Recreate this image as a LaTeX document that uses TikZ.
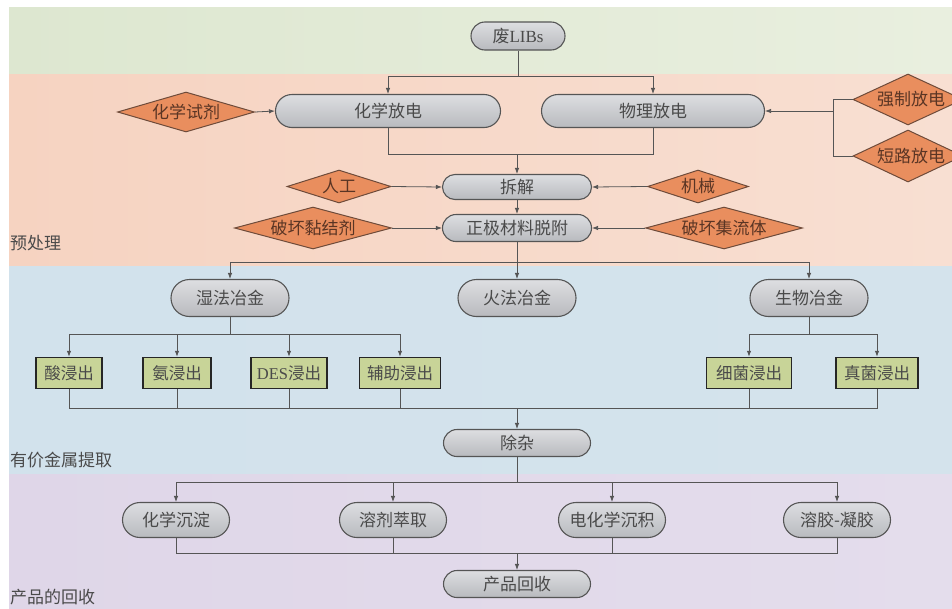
\documentclass[tikz,border=0pt]{standalone}
\usepackage{fontspec}
\setmainfont{Liberation Serif}
\newfontfamily\cjk{Noto Sans CJK SC}
\usetikzlibrary{shapes.misc,shapes.geometric,arrows.meta}
\definecolor{lnc}{HTML}{555555}
\definecolor{txc}{HTML}{4A4A4A}
\definecolor{pilltop}{HTML}{DDDEE1}
\definecolor{pillbot}{HTML}{B8BABE}
\definecolor{diaf}{HTML}{E98E5E}
\definecolor{diad}{HTML}{6E4B3A}
\definecolor{diat}{HTML}{5A3524}
\definecolor{boxf}{HTML}{C8D498}
\definecolor{grL}{HTML}{DDE7D0}\definecolor{grR}{HTML}{E9EFDF}
\definecolor{orL}{HTML}{F6D3C1}\definecolor{orR}{HTML}{F8DFD2}
\definecolor{blL}{HTML}{D2E2EC}\definecolor{blR}{HTML}{D4E3EC}
\definecolor{puL}{HTML}{DFD6E8}\definecolor{puR}{HTML}{E4DDEC}
\tikzset{
  pill/.style={rounded rectangle, draw=lnc, line width=1.1pt, top color=pilltop, bottom color=pillbot,
    inner sep=0pt, text=txc, font=\cjk\fontsize{17}{20}\selectfont},
  dia/.style={diamond, draw=diad, line width=1pt, fill=diaf, inner sep=0pt},
  dtext/.style={text=diat, font=\cjk\fontsize{17}{20}\selectfont, inner sep=0pt},
  leach/.style={rectangle, draw=black!85, line width=1.5pt, fill=boxf, inner sep=0pt,
    minimum height=31pt, text=txc, font=\cjk\fontsize{16.5}{20}\selectfont},
  lbl/.style={anchor=west, text=txc, inner sep=0pt, font=\cjk\fontsize{17}{20}\selectfont},
  ln/.style={draw=lnc, line width=0.8pt},
  arr/.style={ln, -{Latex[length=6pt,width=4.5pt]}},
}
\begin{document}
\begin{tikzpicture}[x=1pt,y=-1pt]
\useasboundingbox (0,0) rectangle (952,608);
% bands
\fill[white] (0,0) rectangle (952,608);
\fill[left color=grL, right color=grR] (9,7) rectangle (952,74);
\fill[left color=orL, right color=orR] (9,74) rectangle (952,266);
\fill[left color=blL, right color=blR] (9,266) rectangle (952,474);
\fill[left color=puL, right color=puR] (9,474) rectangle (952,608);
% band labels
\node[lbl] (lab1) at (10,243) {预处理};
\node[lbl] (lab2) at (10,460) {有价金属提取};
\node[lbl] (lab3) at (10,597) {产品的回收};
% pills
\node[pill, minimum width=94pt, minimum height=28pt] (lib) at (518,36) {废{\rmfamily LIBs}};
\node[pill, minimum width=225pt, minimum height=33pt] (chem) at (388,111) {化学放电};
\node[pill, minimum width=223pt, minimum height=33pt] (phys) at (653,111) {物理放电};
\node[pill, minimum width=149pt, minimum height=25pt] (cj) at (517,187) {拆解};
\node[pill, minimum width=149pt, minimum height=27pt] (zj) at (517,228) {正极材料脱附};
\node[pill, minimum width=118pt, minimum height=37pt] (wet) at (230,298) {湿法冶金};
\node[pill, minimum width=118pt, minimum height=37pt] (fire) at (517,298) {火法冶金};
\node[pill, minimum width=118pt, minimum height=37pt] (bio) at (809,298) {生物冶金};
\node[pill, minimum width=147pt, minimum height=27pt] (cz) at (517,443) {除杂};
\node[pill, minimum width=107pt, minimum height=35pt] (p1) at (176,520) {化学沉淀};
\node[pill, minimum width=107pt, minimum height=35pt] (p2) at (393,520) {溶剂萃取};
\node[pill, minimum width=107pt, minimum height=35pt] (p3) at (612,520) {电化学沉积};
\node[pill, minimum width=107pt, minimum height=35pt] (p4) at (837,520) {溶胶-凝胶};
\node[pill, minimum width=147pt, minimum height=27pt] (prod) at (517,584) {产品回收};
% diamonds
\node[dia, minimum width=137pt, minimum height=40pt] (cr) at (186,112) {};
\node[dtext] (crt) at (cr) {化学试剂};
\node[dia, minimum width=110pt, minimum height=51pt] (fd) at (908,99.5) {};
\node[dtext] (fdt) at (911,99.5) {强制放电};
\node[dia, minimum width=110pt, minimum height=52pt] (sd) at (908,156) {};
\node[dtext] (sdt) at (911,156) {短路放电};
\node[dia, minimum width=104pt, minimum height=33pt] (rg) at (339,186.5) {};
\node[dtext] (rgt) at (rg) {人工};
\node[dia, minimum width=101pt, minimum height=33pt] (jx) at (698,186.5) {};
\node[dtext] (jxt) at (jx) {机械};
\node[dia, minimum width=157pt, minimum height=42pt] (pn) at (313,228) {};
\node[dtext] (pnt) at (pn) {破坏黏结剂};
\node[dia, minimum width=157pt, minimum height=42pt] (pj) at (724,228) {};
\node[dtext] (pjt) at (pj) {破坏集流体};
% leaching boxes
\node[leach, minimum width=66pt] (b1) at (69,373) {酸浸出};
\node[leach, minimum width=68pt] (b2) at (177,373) {氨浸出};
\node[leach, minimum width=76pt] (b3) at (289,373) {{\rmfamily DES}浸出};
\node[leach, minimum width=81pt] (b4) at (400,373) {辅助浸出};
\node[leach, minimum width=85pt] (b5) at (749,373) {细菌浸出};
\node[leach, minimum width=82pt] (b6) at (877,373) {真菌浸出};
% junctions
\coordinate (j1) at (518,76);
\coordinate (j2) at (833,111);
\coordinate (j3) at (517,154);
\coordinate (j4) at (517,262);
\coordinate (j5) at (230,334);
\coordinate (j6) at (809,334);
\coordinate (j7) at (517,408);
\coordinate (j8) at (517,482);
\coordinate (j9) at (517,553);
\coordinate (k1) at (833,99.5);
\coordinate (k2) at (833,156);
% connectors
\draw[ln] (lib.south) -- (j1);
\draw[arr] (j1) -| (chem.north);
\draw[arr] (j1) -| (phys.north);
\draw[arr] (cr.east) -- (chem.west);
\draw[ln] (fd.west) -- (k1) -- (k2) -- (sd.west);
\draw[arr] (j2) -- (phys.east);
\draw[ln] (chem.south) |- (j3);
\draw[ln] (phys.south) |- (j3);
\draw[arr] (j3) -- (cj.north);
\draw[arr] (rg.east) -- (cj.west);
\draw[arr] (jx.west) -- (cj.east);
\draw[arr] (cj.south) -- (zj.north);
\draw[arr] (pn.east) -- (zj.west);
\draw[arr] (pj.west) -- (zj.east);
\draw[arr] (zj.south) -- (fire.north);
\draw[arr] (j4) -| (wet.north);
\draw[arr] (j4) -| (bio.north);
\draw[ln] (wet.south) -- (j5);
\foreach \b in {b1,b2,b3,b4} \draw[arr] (j5) -| (\b.north);
\draw[ln] (bio.south) -- (j6);
\foreach \b in {b5,b6} \draw[arr] (j6) -| (\b.north);
\foreach \b in {b1,b2,b3,b4,b5,b6} \draw[ln] (\b.south) |- (j7);
\draw[arr] (j7) -- (cz.north);
\draw[ln] (cz.south) -- (j8);
\foreach \p in {p1,p2,p3,p4} \draw[arr] (j8) -| (\p.north);
\foreach \p in {p1,p2,p3,p4} \draw[ln] (\p.south) |- (j9);
\draw[arr] (j9) -- (prod.north);
\end{tikzpicture}
\end{document}
